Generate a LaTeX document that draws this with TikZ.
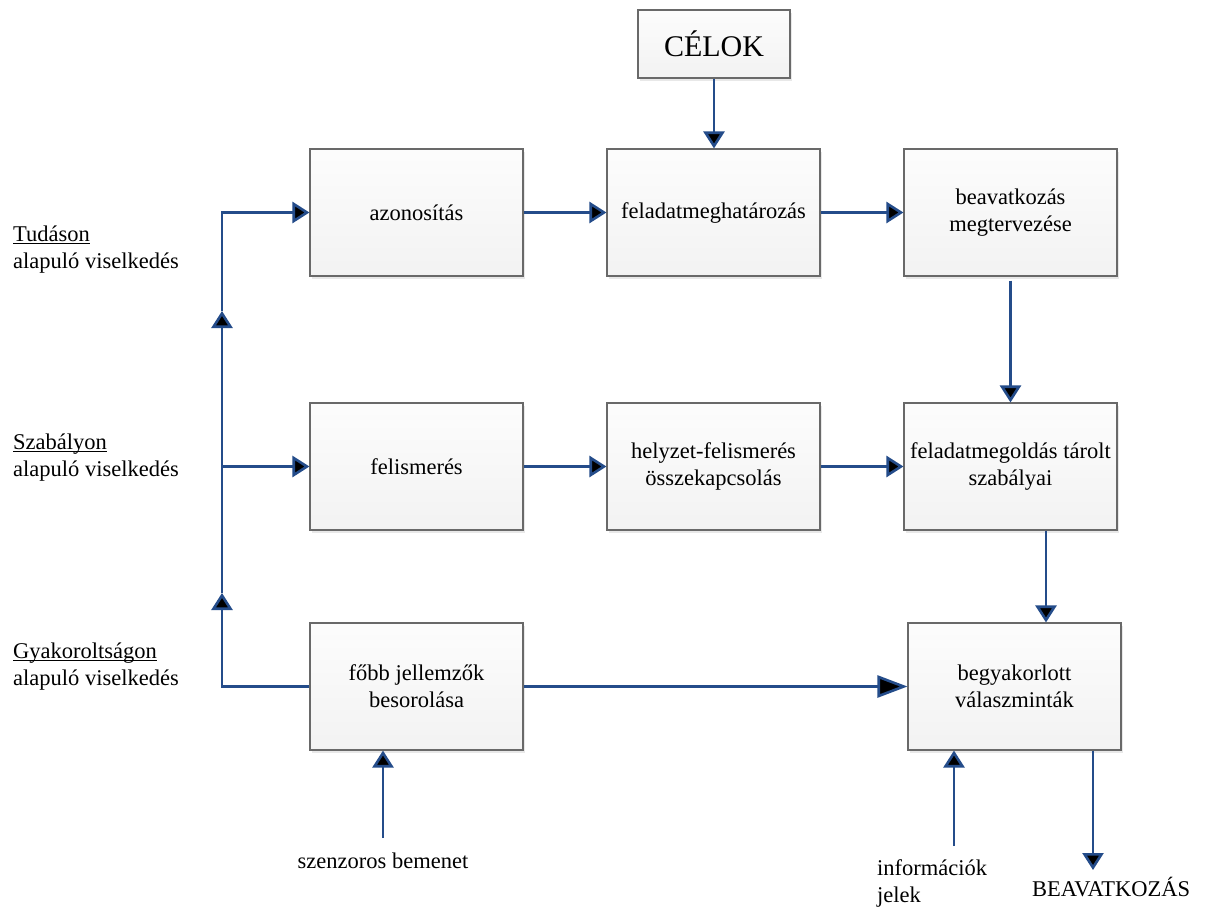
\documentclass[tikz,border=0pt]{standalone}
\usepackage{fontspec}
\setmainfont{Liberation Serif}
\usetikzlibrary{arrows.meta,shadows}
\definecolor{flowblue}{RGB}{36,76,138}
\definecolor{boxline}{RGB}{105,105,105}
% underline drawn at a fixed depth below the baseline
\newcommand\undl[1]{\leavevmode\setbox0\hbox{#1}\rlap{\rule[-2.4pt]{\wd0}{0.9pt}}\box0}
\begin{document}
\begin{tikzpicture}[x=1pt,y=-1pt,
  box/.style={draw=boxline, line width=1.1pt, top color=gray!2, bottom color=gray!10,
    minimum width=213pt, minimum height=127pt, inner sep=2pt, align=center,
    font=\rmfamily\fontsize{22.5}{27}\selectfont,
    drop shadow={shadow xshift=2pt, shadow yshift=-3pt, fill=gray!35}},
  flow/.style={draw=flowblue, line width=2.6pt},
  tip/.style={-{Triangle[width=21pt,length=17pt,fill=black]}},
  bigtip/.style={-{Triangle[width=22pt,length=30pt,fill=black]}},
  lbl/.style={font=\rmfamily\fontsize{22.5}{27}\selectfont, inner sep=0pt, align=left}]
\useasboundingbox (0,0) rectangle (1208,906);
\fill[white] (0,0) rectangle (1208,906);

% process boxes
\node[box, minimum width=152pt, minimum height=68pt, font=\rmfamily\fontsize{30}{36}\selectfont] (celok) at (714,44) {CÉLOK};
\node[box] (azon)   at (416.5,212.5) {azonosítás};
\node[box] (felad)  at (713.5,212.5) {feladatmeghatározás};
\node[box] (beavm)  at (1010.5,212.5) {beavatkozás\\megtervezése};
\node[box] (felism) at (416.5,466.5) {felismerés};
\node[box] (helyz)  at (713.5,466.5) {helyzet-felismerés\\összekapcsolás};
\node[box] (megold) at (1010.5,466.5) {feladatmegoldás tárolt\\szabályai};
\node[box] (fobb)   at (416.5,686.5) {főbb jellemzők\\besorolása};
\node[box] (begy)   at (1014.5,686.5) {begyakorlott\\válaszminták};

% level labels
\node[lbl, anchor=north west] (ltud) at (13,226) {\undl{Tudáson}\\alapuló viselkedés};
\node[lbl, anchor=north west] (lszab) at (13,434) {\undl{Szabályon}\\alapuló viselkedés};
\node[lbl, anchor=north west] (lgyak) at (13,643) {\undl{Gyakoroltságon}\\alapuló viselkedés};

% main flow
\draw[flow,tip] (celok.south) -- (celok.south |- felad.north);
\draw[flow,tip] (azon) -- (felad);
\draw[flow,tip] (felad) -- (beavm);
\draw[flow,tip] ([yshift=-4pt]beavm.south) -- (megold.north);
\draw[flow,tip] (felism) -- (helyz);
\draw[flow,tip] (helyz) -- (megold);
\draw[flow,tip] ([xshift=35.5pt]megold.south) -- ([xshift=35.5pt]megold.south |- begy.north);
\draw[flow,bigtip] (fobb) -- (begy);

% feedback line on the left
\coordinate (lcorner) at (222,686.5);
\coordinate (up1) at (222,593);
\coordinate (up2) at (222,311);
\coordinate (branch) at (222,466.5);
\draw[flow,tip] (fobb.west) -- (lcorner) -- (up1);
\draw[flow,tip] (up1) -- (up2);
\draw[flow,tip] (up2) |- (azon.west);
\draw[flow,tip] (branch) -- (felism.west);

% inputs and output
\coordinate (szin) at (383,838);
\draw[flow,tip] (szin) -- (szin |- fobb.south);
\node[lbl, anchor=base] (szlbl) at (383,868) {szenzoros bemenet};
\coordinate (infin) at (954,846);
\draw[flow,tip] (infin) -- (infin |- begy.south);
\node[lbl, anchor=north west] (infolbl) at (877,859.5) {információk\\jelek};
\coordinate (outend) at (1093,870);
\draw[flow,tip] (begy.south -| outend) -- (outend);
\node[lbl, anchor=base west] (beavlbl) at (1032,896) {BEAVATKOZÁS};
\end{tikzpicture}
\end{document}
